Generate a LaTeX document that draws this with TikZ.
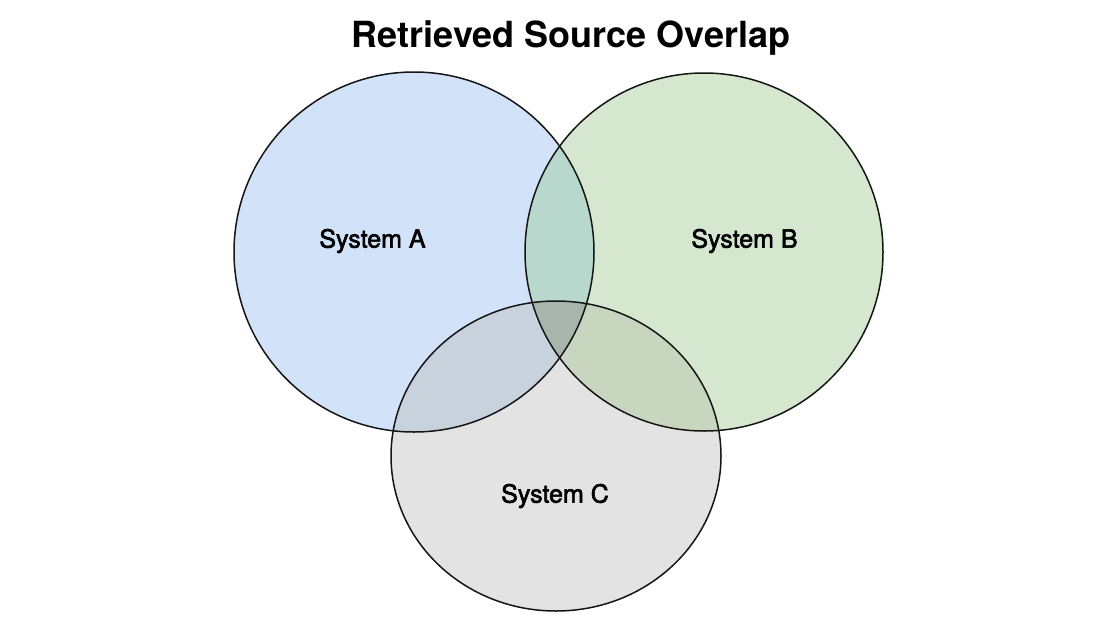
\documentclass[tikz,border=0pt]{standalone}
\usepackage{fontspec}
\setmainfont{TeX Gyre Heros}
\newcommand\medtext[1]{\special{pdf:literal direct 2 Tr 0.6 w}#1\special{pdf:literal direct 0 Tr}}
\definecolor{cA}{HTML}{D2E3F9}
\definecolor{cB}{HTML}{D5E8CF}
\definecolor{cC}{HTML}{E3E3E3}
\definecolor{cAB}{HTML}{B9D8CD}
\definecolor{cAC}{HTML}{C7D2DD}
\definecolor{cBC}{HTML}{C8D6C0}
\definecolor{cABC}{HTML}{A8B5AD}
\definecolor{edge}{HTML}{151515}
\begin{document}
\begin{tikzpicture}[x=1pt,y=-1pt,
  outline/.style={draw=edge,line width=1.5pt},
  lbl/.style={font=\fontsize{25}{30}\selectfont,text=black}]
\useasboundingbox (0,0) rectangle (1119,630);
\fill[white] (0,0) rectangle (1119,630);
\def\pathA{(414,252) circle[radius=180]}
\def\pathB{(704,252) circle[radius=179]}
\def\pathC{(556,456) ellipse[x radius=165,y radius=155]}
\fill[cA] \pathA;
\fill[cB] \pathB;
\fill[cC] \pathC;
\begin{scope}\clip \pathA; \fill[cAB] \pathB; \fill[cAC] \pathC; \end{scope}
\begin{scope}\clip \pathB; \fill[cBC] \pathC; \end{scope}
\begin{scope}\clip \pathA; \clip \pathB; \fill[cABC] \pathC; \end{scope}
\draw[outline] \pathA;
\draw[outline] \pathB;
\draw[outline] \pathC;
\node[font=\bfseries\fontsize{36}{42}\selectfont] (title) at (571,38) {Retrieved Source Overlap};
\node[lbl] (la) at (372.5,241) {\medtext{System A}};
\node[lbl] (lb) at (744.5,241) {\medtext{System B}};
\node[lbl] (lc) at (555,496) {\medtext{System C}};
\end{tikzpicture}
\end{document}
